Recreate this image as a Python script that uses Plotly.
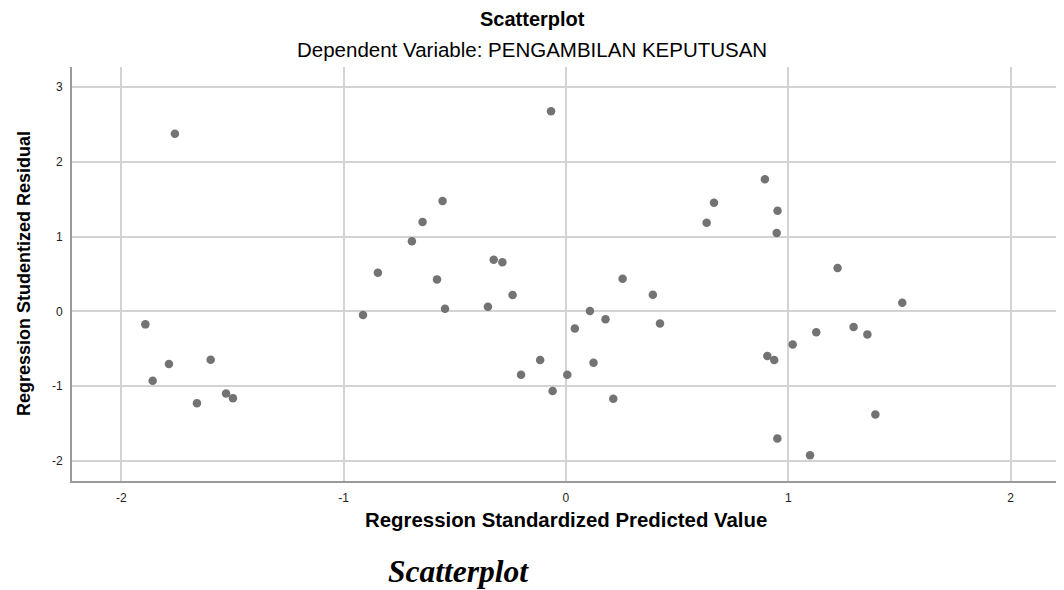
import plotly.graph_objects as go

predicted = [-1.759, -1.892, -1.786, -1.859, -1.598, -1.660, -1.529, -1.498,
             -0.067, -0.555, -0.645, -0.693, -0.846, -0.580, -0.913, -0.544,
             -0.325, -0.286, -0.240, -0.351, 0.255, 0.391, 0.108, 0.178,
             0.423, 0.040, -0.116, -0.202, 0.006, 0.124, -0.060, 0.213,
             0.895, 0.666, 0.633, 0.952, 0.948, 1.222, 1.513, 1.126,
             1.294, 1.356, 1.020, 0.906, 0.937, 1.392, 0.951, 1.098]
residual = [2.378, -0.174, -0.705, -0.929, -0.647, -1.228, -1.098, -1.161,
            2.677, 1.477, 1.195, 0.937, 0.517, 0.428, -0.050, 0.035,
            0.691, 0.656, 0.218, 0.062, 0.436, 0.222, 0.004, -0.107,
            -0.161, -0.228, -0.652, -0.849, -0.849, -0.688, -1.067, -1.170,
            1.767, 1.454, 1.186, 1.347, 1.048, 0.580, 0.115, -0.281,
            -0.210, -0.308, -0.442, -0.598, -0.652, -1.379, -1.700, -1.924]
x_ticks = [-2, -1, 0, 1, 2]
y_ticks = [-2, -1, 0, 1, 2, 3]

# the page body has an 8px default margin; lay out in window pixels
OFF = 8
WIN_W, WIN_H = 1064, 590
W, H = WIN_W - OFF, WIN_H - OFF
PL, PR, PT, PB = 72, 1059, 67, 481          # plot box in window pixels
L, R = PL - OFF, WIN_W - PR
T, B = PT - OFF, WIN_H - PB
PW, PH = PR - PL, PB - PT

def px_x(px):
    return (px - PL) / PW

def px_y(py):
    return (PB - py) / PH

fig = go.Figure()
fig.add_trace(go.Scatter(
    x=predicted, y=residual, mode="markers",
    marker=dict(size=8.5, color="#737373", line=dict(width=0)),
    showlegend=False, hoverinfo="x+y"))

axis_common = dict(showgrid=True, gridcolor="#d3d3d3", gridwidth=1.5, zeroline=False,
                   showline=True, linecolor="#9a9a9a", linewidth=2,
                   ticks="", ticklabelstandoff=5,
                   tickfont=dict(size=12, color="#222"), automargin=False)

fig.update_layout(
    width=W, height=H,
    paper_bgcolor="white", plot_bgcolor="white",
    margin=dict(l=L, r=R, t=T, b=B, autoexpand=False),
    font=dict(family="Arial, Liberation Sans, sans-serif", color="#000"),
    xaxis=dict(range=[-2.222, 2.218], tickvals=x_ticks, ticktext=[str(v) for v in x_ticks],
               **axis_common),
    yaxis=dict(range=[-2.27, 3.27], tickvals=y_ticks, ticktext=[str(v) for v in y_ticks],
               **axis_common),
)

def note(text, xp, yp, size, family=None, angle=0):
    f = dict(size=size, color="#000")
    if family:
        f["family"] = family
    fig.add_annotation(text=text, xref="paper", yref="paper",
                       x=px_x(xp), y=px_y(yp), xanchor="center", yanchor="middle",
                       showarrow=False, textangle=angle, font=f)

note("<b>Scatterplot</b>", 532, 19, 20)
note("Dependent Variable: PENGAMBILAN KEPUTUSAN", 532, 49, 20.5)
note("<b>Regression Standardized Predicted Value</b>", 566, 520, 20.4)
note("<b>Regression Studentized Residual</b>", 24, 274, 18, angle=-90)
note("<b><i>Scatterplot</i></b>", 458, 571, 31.5,
     family="Liberation Serif, Times New Roman, serif")

fig.write_html("out.html")
